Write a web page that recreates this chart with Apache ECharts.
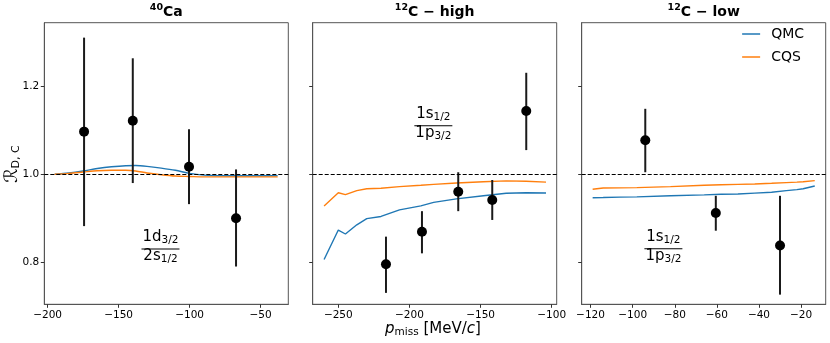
<!DOCTYPE html>
<html>
<head>
<meta charset="utf-8">
<script src="https://cdn.jsdelivr.net/npm/echarts@6/dist/echarts.min.js"></script>
<style>
  html, body { margin: 0; padding: 0; background: #fff; }
  #chart { width: 830px; height: 343px; }
</style>
</head>
<body>
<div id="chart"></div>
<script>
// ---- 40Ca panel ----
var caCurveX = [-195, -185, -175, -165, -155, -145, -138, -130, -120, -110, -100, -90, -80, -70, -60, -50, -38];
var caQMC = [1.000, 1.003, 1.0075, 1.013, 1.017, 1.0195, 1.0198, 1.018, 1.014, 1.009, 1.002, 0.998, 0.997, 0.9965, 0.9965, 0.9965, 0.997];
var caCQS = [1.000, 1.002, 1.005, 1.008, 1.009, 1.009, 1.0075, 1.003, 0.999, 0.996, 0.995, 0.994, 0.994, 0.994, 0.994, 0.994, 0.994];
var caPtX = [-174.3, -140.0, -100.4, -67.3];
var caPtY = [1.097, 1.122, 1.017, 0.900];
var caErrLo = [0.882, 0.980, 0.932, 0.790];
var caErrHi = [1.311, 1.264, 1.1025, 1.011];

// ---- 12C high panel ----
var chCurveX = [-260, -250, -245, -237, -230, -220, -207, -192, -183, -167, -148, -132, -118, -104];
var chQMC = [0.806, 0.873, 0.864, 0.885, 0.899, 0.904, 0.919, 0.928, 0.936, 0.944, 0.951, 0.9567, 0.958, 0.9574];
var chCQS = [0.928, 0.958, 0.9536, 0.9627, 0.967, 0.968, 0.9718, 0.975, 0.977, 0.980, 0.983, 0.985, 0.984, 0.982];
var chPtX = [-216.5, -191.2, -165.7, -141.8, -117.9];
var chPtY = [0.795, 0.869, 0.960, 0.9415, 1.144];
var chErrLo = [0.730, 0.820, 0.916, 0.896, 1.055];
var chErrHi = [0.858, 0.916, 1.0046, 0.987, 1.231];

// ---- 12C low panel ----
var clCurveX = [-119, -114, -106, -98, -82, -66, -58, -50, -42, -34, -27, -22, -19, -13.5];
var clQMC = [0.9467, 0.947, 0.948, 0.9485, 0.951, 0.953, 0.9544, 0.955, 0.957, 0.959, 0.9627, 0.965, 0.967, 0.9733];
var clCQS = [0.9658, 0.9688, 0.969, 0.9695, 0.9718, 0.975, 0.976, 0.977, 0.978, 0.9795, 0.981, 0.982, 0.983, 0.9854];
var clPtX = [-94.0, -60.5, -30.0];
var clPtY = [1.0774, 0.912, 0.838];
var clErrLo = [1.0046, 0.8715, 0.726];
var clErrHi = [1.149, 0.951, 0.951];

// tick labels
var caTicks = [-200, -150, -100, -50];
var chTicks = [-250, -200, -150, -100];
var clTicks = [-120, -100, -80, -60, -40, -20];
var yTicks = [0.8, 1.0, 1.2];

var FONT = 'DejaVu Sans';
var BLUE = '#1f77b4', ORANGE = '#ff7f0e';

var chart = echarts.init(document.getElementById('chart'));

var grids = [
  { left: 44.3, top: 22.7, width: 244, height: 281.6 },
  { left: 312.7, top: 22.7, width: 244, height: 281.6 },
  { left: 581.7, top: 22.7, width: 244, height: 281.6 }
];
var xRanges = [[-202.3, -30.5], [-268, -96.5], [-124.2, -8.3]];
var xTickSets = [caTicks, chTicks, clTicks];

function minus(v) { return String(v).replace('-', '\u2212'); }

var xAxes = [], yAxes = [];
for (var i = 0; i < 3; i++) {
  xAxes.push({
    type: 'value', gridIndex: i, min: xRanges[i][0], max: xRanges[i][1],
    axisLine: { show: true, onZero: false, lineStyle: { color: '#555', width: 1 } },
    axisTick: { show: true, inside: false, length: 3.5, customValues: xTickSets[i], lineStyle: { color: '#333' } },
    axisLabel: { customValues: xTickSets[i], color: '#000', fontSize: 10.5, fontFamily: FONT, margin: 5, formatter: minus },
    splitLine: { show: false }
  });
  yAxes.push({
    type: 'value', gridIndex: i, min: 0.704, max: 1.345,
    axisLine: { show: true, onZero: false, lineStyle: { color: '#555', width: 1 } },
    axisTick: { show: true, inside: false, length: 3.5, customValues: yTicks, lineStyle: { color: '#333' } },
    axisLabel: { show: i === 0, customValues: yTicks, color: '#000', fontSize: 10.5, fontFamily: FONT, margin: 5,
      formatter: function (v) { return v.toFixed(1); } },
    splitLine: { show: false }
  });
}

function curve(name, xs, ys, gi, color, smooth) {
  return {
    name: name, type: 'line', xAxisIndex: gi, yAxisIndex: gi,
    data: xs.map(function (x, k) { return [x, ys[k]]; }),
    symbol: 'none', showSymbol: false, smooth: smooth || false, silent: true,
    lineStyle: { color: color, width: 1.4 }, itemStyle: { color: color }, z: 2
  };
}

function errBars(xs, lo, hi, gi) {
  return {
    type: 'custom', xAxisIndex: gi, yAxisIndex: gi, silent: true, z: 3,
    data: xs.map(function (x, k) { return [x, lo[k], hi[k]]; }),
    encode: { x: 0, y: [1, 2] },
    renderItem: function (params, api) {
      var a = api.coord([api.value(0), api.value(1)]);
      var b = api.coord([api.value(0), api.value(2)]);
      return { type: 'line', shape: { x1: a[0], y1: a[1], x2: b[0], y2: b[1] },
        style: { stroke: '#1a1a1a', lineWidth: 2 } };
    }
  };
}

function dots(xs, ys, gi) {
  return {
    type: 'scatter', xAxisIndex: gi, yAxisIndex: gi, silent: true, z: 4,
    symbol: 'circle', symbolSize: 10, itemStyle: { color: '#000', opacity: 1 },
    data: xs.map(function (x, k) { return [x, ys[k]]; })
  };
}

function unity(gi) {
  return {
    type: 'line', xAxisIndex: gi, yAxisIndex: gi, data: [], silent: true,
    markLine: { silent: true, symbol: 'none', label: { show: false },
      lineStyle: { color: '#000', type: [4, 2], width: 1.1 }, data: [{ yAxis: 1.0 }] }
  };
}

var series = [
  curve('QMC', caCurveX, caQMC, 0, BLUE, 0.3), curve('CQS', caCurveX, caCQS, 0, ORANGE, 0.3),
  curve('QMC', chCurveX, chQMC, 1, BLUE), curve('CQS', chCurveX, chCQS, 1, ORANGE),
  curve('QMC', clCurveX, clQMC, 2, BLUE), curve('CQS', clCurveX, clCQS, 2, ORANGE),
  unity(0), unity(1), unity(2),
  errBars(caPtX, caErrLo, caErrHi, 0), dots(caPtX, caPtY, 0),
  errBars(chPtX, chErrLo, chErrHi, 1), dots(chPtX, chPtY, 1),
  errBars(clPtX, clErrLo, clErrHi, 2), dots(clPtX, clPtY, 2)
];

var titleRich = {
  s: { fontSize: 9.5, fontWeight: 'bold', fontFamily: FONT, lineHeight: 10, verticalAlign: 'top', fill: '#000' },
  b: { fontSize: 14, fontWeight: 'bold', fontFamily: FONT, lineHeight: 18, fill: '#000' }
};
function titleText(cx, txt) {
  return { type: 'text', x: cx, y: 3, silent: true,
    style: { text: txt, rich: titleRich, align: 'center', verticalAlign: 'top', fill: '#000' } };
}

var option = {
  animation: false,
  grid: grids.map(function (g) {
    return { left: g.left, top: g.top, width: g.width, height: g.height, show: true,
      borderColor: '#555', borderWidth: 1, backgroundColor: 'transparent' };
  }),
  xAxis: xAxes,
  yAxis: yAxes,
  legend: {
    data: ['QMC', 'CQS'], orient: 'vertical', right: 26, top: 27, padding: 0,
    icon: 'rect', itemWidth: 18, itemHeight: 1.5, itemGap: 9,
    textStyle: { fontSize: 14, fontFamily: FONT, color: '#000', padding: [0, 0, 0, 6] }
  },
  series: series,
  graphic: [
    titleText(166.3, '{s|40}{b|Ca}'),
    titleText(434.7, '{s|12}{b|C \u2212 high}'),
    titleText(703.7, '{s|12}{b|C \u2212 low}'),
    { type: 'text', x: 433, y: 329, silent: true,
      style: { text: '{i|p}{s|miss}{n| [MeV/}{i|c}{n|]}', align: 'center', verticalAlign: 'middle',
        rich: {
          i: { fontSize: 15, fontStyle: 'italic', fontFamily: FONT, lineHeight: 18, fill: '#000' },
          s: { fontSize: 10.5, fontFamily: FONT, lineHeight: 10, verticalAlign: 'bottom', fill: '#000' },
          n: { fontSize: 15, fontFamily: FONT, lineHeight: 18, fill: '#000' }
        } } },
    { type: 'text', x: 12, y: 164, rotation: Math.PI / 2, silent: true,
      style: { text: '{r|\u211B}{s|D, C}', align: 'center', verticalAlign: 'middle',
        rich: {
          r: { fontSize: 18, fontFamily: FONT, lineHeight: 20, fill: '#000' },
          s: { fontSize: 11, fontFamily: FONT, lineHeight: 10, verticalAlign: 'bottom', fill: '#000' }
        } } }
  ]
};

chart.setOption(option);

// fraction labels placed at data positions
var fracRich = {
  a: { fontSize: 15, fontFamily: FONT, lineHeight: 18, fill: '#000' },
  b: { fontSize: 10.5, fontFamily: FONT, lineHeight: 10, verticalAlign: 'bottom', fill: '#000' }
};
var fracs = [
  { gi: 0, at: [-120.5, 0.830], top: '{a|1d}{b|3/2}', bot: '{a|2s}{b|1/2}' },
  { gi: 1, at: [-183.2, 1.1107], top: '{a|1s}{b|1/2}', bot: '{a|1p}{b|3/2}' },
  { gi: 2, at: [-85.4, 0.8305], top: '{a|1s}{b|1/2}', bot: '{a|1p}{b|3/2}' }
];
var extra = fracs.map(function (f) {
  var p = chart.convertToPixel({ xAxisIndex: f.gi, yAxisIndex: f.gi }, f.at);
  return {
    type: 'group', x: p[0], y: p[1], silent: true,
    children: [
      { type: 'text', x: 0, y: -3, style: { text: f.top, rich: fracRich, align: 'center', verticalAlign: 'bottom' } },
      { type: 'rect', shape: { x: -19, y: -0.5, width: 38, height: 1 }, style: { fill: '#000' } },
      { type: 'text', x: 0, y: -2, style: { text: f.bot, rich: fracRich, align: 'center', verticalAlign: 'top' } }
    ]
  };
});
chart.setOption({ graphic: option.graphic.concat(extra) });
</script>
</body>
</html>
